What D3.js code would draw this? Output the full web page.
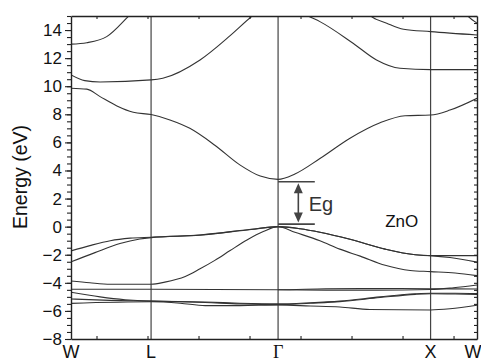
<!DOCTYPE html>
<html>
<head>
<meta charset="utf-8">
<script src="https://cdn.jsdelivr.net/npm/d3@7"></script>
<style>
  body { margin: 0; background: #fff; }
  svg { display: block; font-family: "Liberation Sans", Arial, sans-serif; }
</style>
</head>
<body>
<div id="chart"></div>
<script>
'use strict'

var width = 481;
var height = 362;
var margin = {top: 16, right: 4, bottom: 23, left: 71};

// k-path positions of the symmetry points (arbitrary units, ticks every 1)
var symPoints = [0, 1.57, 4.06, 7.05, 7.96];
var symLabels = ["W", "L", "\u0393", "X", "W"];
var kTicks = [0.5, 1.5, 2.5, 3.5, 4.5, 5.5, 6.5, 7.5];
var yMajor = [-8, -6, -4, -2, 0, 2, 4, 6, 8, 10, 12, 14];

// conduction / upper bands  [k, E]
var band1 = [[0, 9.86], [0.31, 9.79], [0.57, 9.26], [0.9, 8.6], [1.22, 8.15], [1.57, 7.98], [1.94, 7.6], [2.33, 7.0], [2.82, 5.8], [3.31, 4.4], [3.71, 3.6], [4.06, 3.37], [4.39, 3.75], [4.88, 4.85], [5.47, 6.3], [6.06, 7.4], [6.55, 7.9], [7.05, 7.95], [7.43, 8.3], [7.96, 9.14]];
var band2 = [[0, 10.8], [0.27, 10.4], [0.57, 10.3], [1.57, 10.45], [1.8, 10.57], [2.53, 11.87], [3.12, 13.6], [3.55, 15.0], [4.06, 16.4], [4.65, 15.0], [4.88, 14.6], [5.53, 13.06], [5.99, 11.87], [6.45, 11.28], [7.05, 11.18], [7.96, 11.18]];
var band3 = [[0, 13.0], [0.31, 13.1], [0.7, 13.53], [1.14, 15.03], [1.57, 16.6]];
var band4 = [[5.5, 16.6], [5.86, 15.03], [6.19, 14.49], [6.52, 14.06], [7.05, 13.89], [7.96, 13.65]];
var band5 = [[7.5, 16.4], [7.78, 15.0], [7.96, 14.49]];

// valence bands
var val1 = [[0, -1.73], [0.37, -1.35], [0.77, -1.0], [1.16, -0.82], [1.57, -0.75], [2.53, -0.59], [3.53, -0.19], [4.06, 0], [4.49, -0.15], [4.88, -0.4], [5.47, -0.9], [6.16, -1.6], [6.75, -2.0], [7.05, -2.06], [7.96, -2.06]];
var val2 = [[0, -2.51], [0.47, -1.85], [0.96, -1.2], [1.35, -0.88], [1.57, -0.78], [2.53, -0.6], [3.53, -0.2], [4.06, 0], [4.49, -0.15], [4.88, -0.4], [5.47, -0.9], [6.16, -1.6], [6.75, -2.0], [7.05, -2.06], [7.43, -2.2], [7.96, -2.53]];
var val3 = [[0, -3.87], [0.37, -4.0], [0.77, -4.1], [1.57, -4.1], [1.84, -3.95], [2.24, -3.55], [2.53, -3.0], [2.82, -2.4], [3.12, -1.7], [3.45, -0.95], [3.77, -0.35], [4.06, 0], [4.39, -0.4], [4.88, -1.0], [5.27, -1.6], [5.67, -2.1], [6.16, -2.75], [6.65, -3.12], [7.05, -3.2], [7.53, -3.3], [7.96, -3.49]];
var val4 = [[0, -4.46], [1.57, -4.46], [4.06, -4.49], [5.0, -4.42], [6.0, -4.4], [7.05, -4.42], [7.96, -4.44]];
var val5 = [[4.06, -4.49], [5.0, -4.52], [6.0, -4.52], [7.05, -4.48], [7.5, -4.35], [7.96, -4.15]];
var val6 = [[0, -4.67], [0.57, -5.0], [1.06, -5.2], [1.57, -5.3], [2.63, -5.36], [3.31, -5.45], [4.06, -5.5], [4.69, -5.42], [5.27, -5.3], [6.06, -5.0], [6.75, -4.78], [7.05, -4.74], [7.53, -4.74], [7.96, -4.77]];
var val7 = [[0, -5.15], [0.76, -5.25], [1.57, -5.3], [2.63, -5.4], [3.31, -5.5], [4.06, -5.55], [4.69, -5.45], [5.27, -5.34], [6.06, -5.05], [6.75, -4.82], [7.05, -4.78], [7.53, -4.8], [7.96, -4.82]];
var val8 = [[0, -5.46], [1.57, -5.35], [2.14, -5.45], [2.63, -5.62], [3.31, -5.62], [4.06, -5.58], [4.69, -5.65], [5.27, -5.72], [5.86, -5.9], [7.05, -5.93], [7.43, -5.85], [7.96, -5.6]];

var bands = [band1, band2, band3, band4, band5, val1, val2, val3, val4, val5, val6, val7, val8];

// band gap marker
var gapTop = 3.2;
var gapBottom = 0.18;

var svg = d3.select("#chart").append("svg").attr("width", width).attr("height", height);

var x = d3.scaleLinear().domain([0, 7.96]).range([margin.left, width - margin.right]);
var y = d3.scaleLinear().domain([-8, 15]).range([height - margin.bottom, margin.top]);

svg.append("clipPath").attr("id", "plotClip")
    .append("rect")
    .attr("x", x(0)).attr("y", y(15))
    .attr("width", x(7.96) - x(0)).attr("height", y(-8) - y(15));

// vertical lines at the symmetry points
svg.selectAll(".sym").data(symPoints.slice(1, 4)).enter().append("line")
    .attr("class", "sym")
    .attr("x1", function(d) { return x(d); }).attr("x2", function(d) { return x(d); })
    .attr("y1", y(15)).attr("y2", y(-8))
    .style("stroke", "#444").style("stroke-width", 1.2);

var line = d3.line()
    .x(function(d) { return x(d[0]); })
    .y(function(d) { return y(d[1]); })
    .curve(d3.curveMonotoneX);

svg.append("g").attr("clip-path", "url(#plotClip)")
    .selectAll(".band").data(bands).enter().append("path")
    .attr("class", "band")
    .attr("d", line)
    .style("fill", "none").style("stroke", "#333").style("stroke-width", 1.1);

// axes
var yMinor = d3.range(-8, 15.01, 0.5);

svg.append("g").attr("transform", "translate(" + x(0) + ",0)")
    .call(d3.axisLeft(y).tickValues(yMinor).tickSize(4).tickFormat(""))
    .call(function(g) { g.select(".domain").remove(); });

var leftAxis = svg.append("g").attr("transform", "translate(" + x(0) + ",0)")
    .call(d3.axisLeft(y).tickValues(yMajor).tickSize(6).tickSizeOuter(0).tickPadding(3));
leftAxis.selectAll("text").style("font-size", "17px").style("fill", "#111");

svg.append("g").attr("transform", "translate(" + x(7.96) + ",0)")
    .call(d3.axisRight(y).tickValues(yMinor).tickSize(-3).tickSizeOuter(0).tickFormat(""));

svg.append("g").attr("transform", "translate(0," + y(15) + ")")
    .call(d3.axisTop(x).tickValues(kTicks).tickSize(-3).tickSizeOuter(0).tickFormat(""));

svg.append("g").attr("transform", "translate(0," + y(-8) + ")")
    .call(d3.axisBottom(x).tickValues(kTicks).tickSize(-3).tickSizeOuter(0).tickFormat(""));

svg.selectAll(".domain").style("stroke", "#222").style("stroke-width", 1.4);
svg.selectAll(".tick line").style("stroke", "#222").style("stroke-width", 1.1);

// symmetry labels
svg.selectAll(".kLabel").data(symPoints).enter().append("text")
    .attr("class", "kLabel")
    .attr("x", function(d, i) { return i == 4 ? x(d) - 4 : x(d); })
    .attr("y", 358)
    .attr("text-anchor", "middle")
    .style("font-size", "18px")
    .style("font-family", function(d, i) { return i == 2 ? "'Liberation Serif', 'DejaVu Serif', serif" : null; })
    .style("fill", "#111")
    .text(function(d, i) { return symLabels[i]; });

svg.append("text")
    .attr("transform", "translate(27," + 177 + ") rotate(-90)")
    .attr("text-anchor", "middle")
    .style("font-size", "19.5px")
    .style("fill", "#111")
    .text("Energy (eV)");

// Eg marker
var gx0 = x(symPoints[2]);
var gx1 = x(4.78);
var ax = x(4.457);
svg.selectAll(".gapBar").data([gapTop, gapBottom]).enter().append("line")
    .attr("class", "gapBar")
    .attr("x1", gx0).attr("x2", gx1)
    .attr("y1", function(d) { return y(d); }).attr("y2", function(d) { return y(d); })
    .style("stroke", "#444").style("stroke-width", 1.6);

svg.append("line")
    .attr("x1", ax).attr("x2", ax)
    .attr("y1", y(gapTop) + 6).attr("y2", y(gapBottom) - 6)
    .style("stroke", "#444").style("stroke-width", 1.6);

var headTop = y(gapTop) + 1.5;
var headBot = y(gapBottom) - 1.5;
svg.append("path")
    .attr("d", "M" + ax + "," + headTop + "L" + (ax - 4.5) + "," + (headTop + 10) + "L" + (ax + 4.5) + "," + (headTop + 10) + "Z")
    .style("fill", "#444");
svg.append("path")
    .attr("d", "M" + ax + "," + headBot + "L" + (ax - 4.5) + "," + (headBot - 10) + "L" + (ax + 4.5) + "," + (headBot - 10) + "Z")
    .style("fill", "#444");

svg.append("text")
    .attr("x", x(4.66)).attr("y", y(1.14))
    .style("font-size", "20px").style("fill", "#333")
    .text("Eg");

svg.append("text")
    .attr("x", x(6.16)).attr("y", y(-0.05))
    .style("font-size", "17px").style("fill", "#111")
    .text("ZnO");
</script>
</body>
</html>
